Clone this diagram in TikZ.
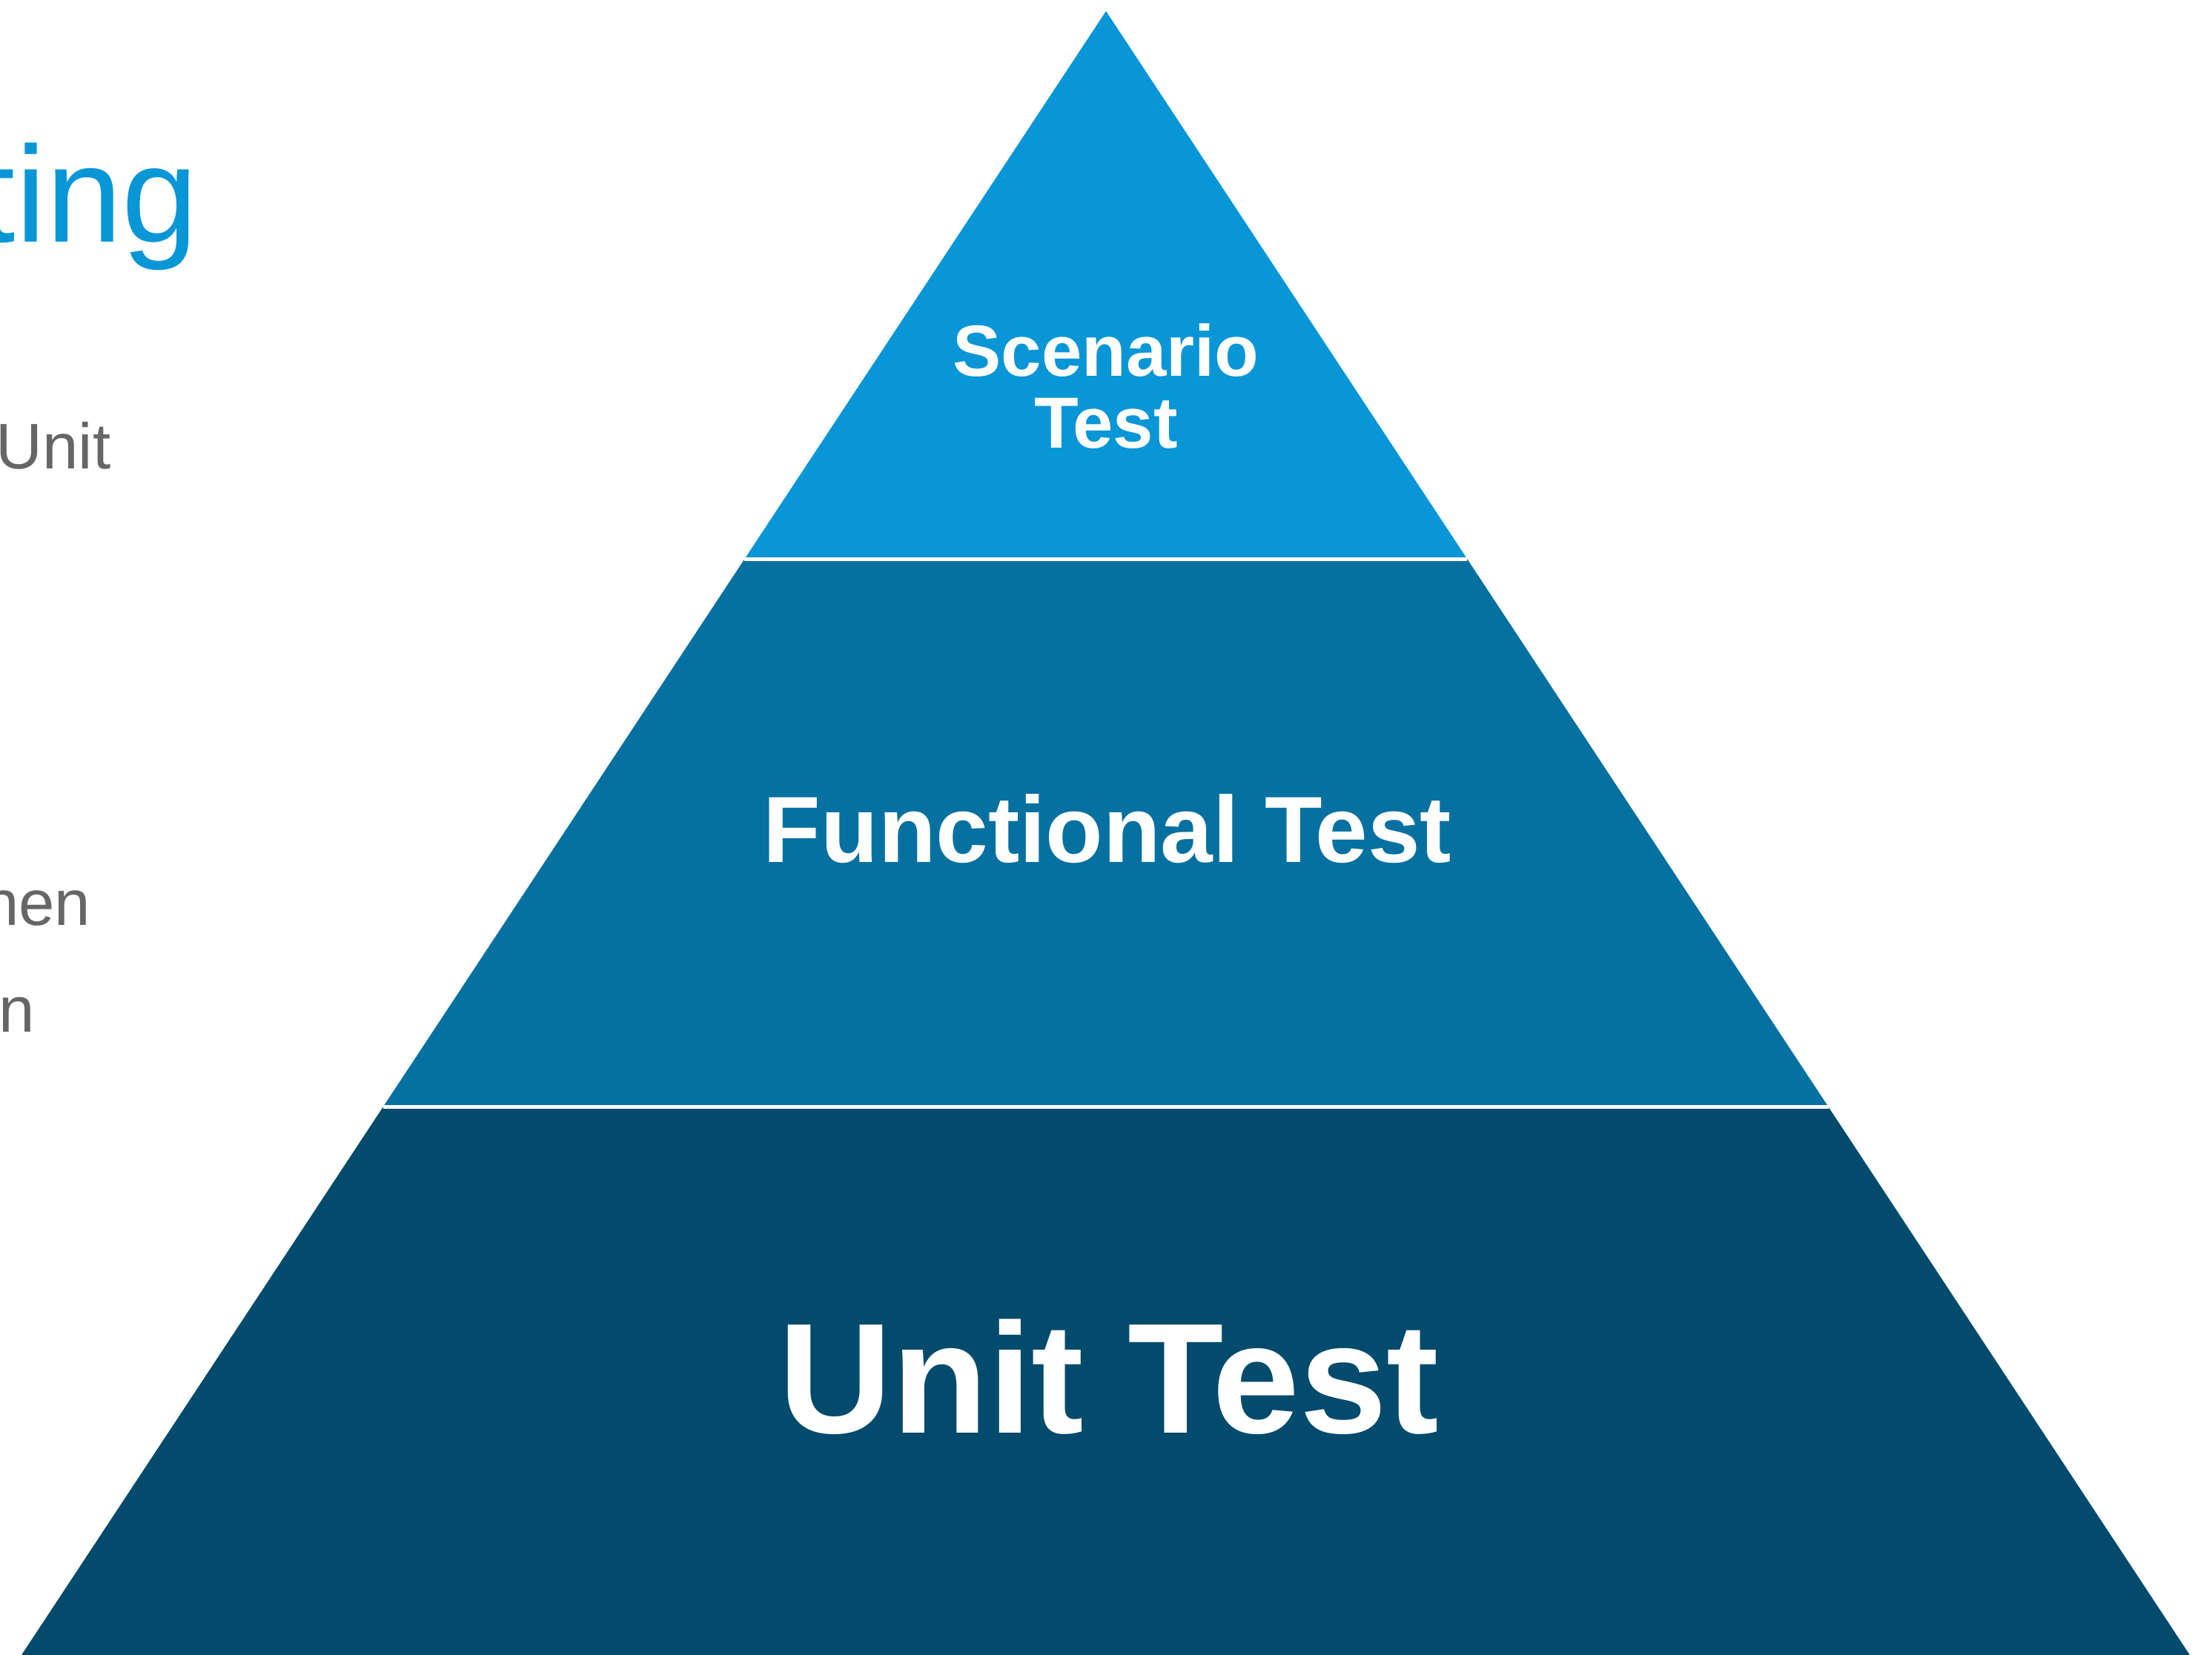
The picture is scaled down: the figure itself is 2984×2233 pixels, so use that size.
\documentclass[tikz,border=0pt]{standalone}
\usepackage{fontspec}
\setmainfont{Liberation Sans}
\usetikzlibrary{calc}
\definecolor{tierTop}{RGB}{9,150,215}
\definecolor{tierMid}{RGB}{6,113,160}
\definecolor{tierLow}{RGB}{3,75,108}
\definecolor{noteGray}{RGB}{102,102,102}

\begin{document}
\begin{tikzpicture}[x=0.1mm,y=-0.1mm,
  tierlabel/.style={text=white,font=\bfseries,inner sep=0pt,align=center},
  notetext/.style={text=noteGray,inner sep=0pt,anchor=base east,font=\fontsize{24.75}{30}\selectfont}]
  \useasboundingbox (0,0) rectangle (2984,2233);
  \clip (0,0) rectangle (2984,2233);
  % pyramid corners
  \coordinate (apex) at (1492,15);
  \coordinate (bl) at (29,2233);
  \coordinate (br) at (2954,2233);
  % split points at one and two thirds of the height
  \coordinate (l1) at ($(apex)!1/3!(bl)$);
  \coordinate (r1) at ($(apex)!1/3!(br)$);
  \coordinate (l2) at ($(apex)!2/3!(bl)$);
  \coordinate (r2) at ($(apex)!2/3!(br)$);
  % tiers
  \fill[tierTop] (apex) -- (r1) -- (l1) -- cycle;
  \fill[tierMid] (l1) -- (r1) -- (r2) -- (l2) -- cycle;
  \fill[tierLow] (l2) -- (r2) -- (br) -- (bl) -- cycle;
  % white gaps between tiers
  \draw[white,line width=0.5mm] (l1) -- (r1);
  \draw[white,line width=0.5mm] (l2) -- (r2);
  % tier labels
  \node[tierlabel,anchor=north,font=\bfseries\fontsize{27.8}{27.6}\selectfont]
    (scenario) at (1492,436) {Scenario\\Test};
  \node[tierlabel,anchor=base,font=\bfseries\fontsize{36.1}{40}\selectfont]
    (functional) at (1494,1163) {Functional Test};
  \node[tierlabel,anchor=base,font=\bfseries\fontsize{60.3}{66}\selectfont]
    (unit) at (1496,1933) {Unit Test};
  % cut-off slide text on the left
  \node[inner sep=0pt,anchor=base east,text=tierTop,font=\fontsize{52.5}{56}\selectfont]
    (title) at (268,327) {ting};
  \node[notetext] (noteA) at (150,633) {Unit};
  \node[notetext] (noteB) at (123,1248) {hen};
  \node[notetext] (noteC) at (48,1392) {n};
\end{tikzpicture}
\end{document}
